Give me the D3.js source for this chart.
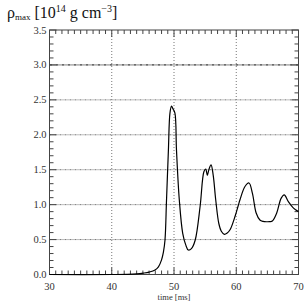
<!DOCTYPE html>
<html lang="en">
<head>
    <meta charset="UTF-8">
    <title>rho max</title>
    <style>
        body{ margin:0; background:#fff; }
    </style>
</head>
<body>
    <div id="chart"></div>
    <script src="https://cdn.jsdelivr.net/npm/d3@7"></script>
    <script>
        // values
        var time = [30, 40, 42.5, 44, 45.1, 46, 46.95, 47.5, 48.0, 48.3, 48.55, 48.8, 49.1, 49.35, 49.6, 49.85, 50.15, 50.4, 50.85, 51.4, 51.9, 52.3, 52.8, 53.4, 54.2, 54.8, 55.1, 55.35, 55.6, 55.95, 56.3, 56.7, 57.2, 57.6, 58.1, 58.5, 59.0, 59.8, 60.3, 60.6, 61.4, 62.05, 62.6, 63.2, 63.8, 64.3, 64.9, 65.4, 65.8, 66.5, 67.2, 67.7, 68.4, 69.2, 70];
        var rho  = [0, 0, 0.002, 0.008, 0.02, 0.035, 0.065, 0.11, 0.21, 0.32, 0.49, 1.07, 1.78, 2.31, 2.41, 2.37, 2.31, 1.78, 1.07, 0.59, 0.42, 0.35, 0.37, 0.49, 0.98, 1.47, 1.51, 1.42, 1.50, 1.57, 1.42, 1.07, 0.73, 0.62, 0.575, 0.59, 0.64, 0.83, 0.98, 1.07, 1.26, 1.31, 1.16, 0.88, 0.78, 0.76, 0.755, 0.757, 0.765, 0.88, 1.09, 1.14, 1.04, 0.95, 0.90];
        var xTicks = [30, 40, 50, 60, 70];
        var yTicks = [0.0, 0.5, 1.0, 1.5, 2.0, 2.5, 3.0, 3.5];

        var FONT = "'Liberation Serif', 'DejaVu Serif', serif";
        var W = 305, H = 305;
        var margin = {top: 30, right: 6.5, bottom: 30.5, left: 49.5};
        var width = W - margin.left - margin.right,
            height = H - margin.top - margin.bottom;

        var svg = d3.select("#chart").append("svg")
            .attr("width", W)
            .attr("height", H)
            .attr("font-family", FONT);

        var g = svg.append("g")
            .attr("transform", "translate(" + margin.left + "," + margin.top + ")");

        var x = d3.scaleLinear().domain([30, 70]).range([0, width]);
        var y = d3.scaleLinear().domain([0, 3.5]).range([height, 0]);

        // grid
        g.append("g").selectAll("line")
            .data(xTicks.slice(1, -1))
            .enter().append("line")
            .attr("x1", d => x(d)).attr("x2", d => x(d))
            .attr("y1", 0).attr("y2", height)
            .attr("stroke", "#777")
            .attr("stroke-width", 1)
            .attr("stroke-dasharray", "1,2");

        g.append("g").selectAll("line")
            .data(yTicks.slice(1, -1))
            .enter().append("line")
            .attr("x1", 0).attr("x2", width)
            .attr("y1", d => y(d)).attr("y2", d => y(d))
            .attr("stroke", d => d == 3.0 ? "#000" : "#777")
            .attr("stroke-width", 1)
            .attr("stroke-dasharray", d => d == 3.0 ? "3,1,1,1" : "2,1,1,1");

        // ticks on all four sides, pointing inward
        var minorX = d3.range(30, 71, 1);
        var minorY = d3.range(0, 36, 1).map(d => d / 10);

        var ax = g.append("g").attr("stroke", "#444").attr("stroke-width", 1);
        minorX.forEach(function(t) {
            var len = (t % 10 == 0) ? 7 : 4;
            ax.append("line").attr("x1", x(t)).attr("x2", x(t)).attr("y1", height).attr("y2", height - len);
            ax.append("line").attr("x1", x(t)).attr("x2", x(t)).attr("y1", 0).attr("y2", len);
        });
        minorY.forEach(function(v) {
            var len = (Math.round(v * 10) % 5 == 0) ? 7 : 4;
            ax.append("line").attr("x1", 0).attr("x2", len).attr("y1", y(v)).attr("y2", y(v));
            ax.append("line").attr("x1", width).attr("x2", width - len).attr("y1", y(v)).attr("y2", y(v));
        });

        g.append("rect")
            .attr("width", width).attr("height", height)
            .attr("fill", "none").attr("stroke", "#444").attr("stroke-width", 1);

        // tick labels
        g.append("g").selectAll("text")
            .data(yTicks)
            .enter().append("text")
            .attr("x", -3).attr("y", d => y(d) + 3.5)
            .attr("text-anchor", "end")
            .attr("font-size", 10.5)
            .attr("fill", "#333")
            .text(d => d.toFixed(1));

        g.append("g").selectAll("text")
            .data(xTicks)
            .enter().append("text")
            .attr("x", d => x(d)).attr("y", height + 15)
            .attr("text-anchor", "middle")
            .attr("font-size", 10.5)
            .attr("fill", "#333")
            .text(d => d);

        g.append("text")
            .attr("x", x(50)).attr("y", height + 25)
            .attr("text-anchor", "middle")
            .attr("font-size", 8.5)
            .attr("fill", "#333")
            .text("time [ms]");

        // title
        var title = svg.append("text")
            .attr("x", 7).attr("y", 18)
            .attr("font-size", 16)
            .attr("fill", "#111");
        title.append("tspan").text("ρ");
        title.append("tspan").attr("font-size", 9).attr("dy", 2).text("max");
        title.append("tspan").attr("dy", -2).text(" [10");
        title.append("tspan").attr("font-size", 10).attr("dy", -6).text("14");
        title.append("tspan").attr("dy", 6).text(" g cm");
        title.append("tspan").attr("font-size", 10).attr("dy", -6).text("−3");
        title.append("tspan").attr("dy", 6).text("]");

        // curve
        var pts = time.map((t, i) => [t, rho[i]]);
        g.append("path")
            .datum(pts)
            .attr("fill", "none")
            .attr("stroke", "#000")
            .attr("stroke-width", 1.2)
            .attr("d", d3.line()
                .x(d => x(d[0]))
                .y(d => y(d[1]))
                .curve(d3.curveCatmullRom.alpha(0.5)));
    </script>
</body>
</html>
